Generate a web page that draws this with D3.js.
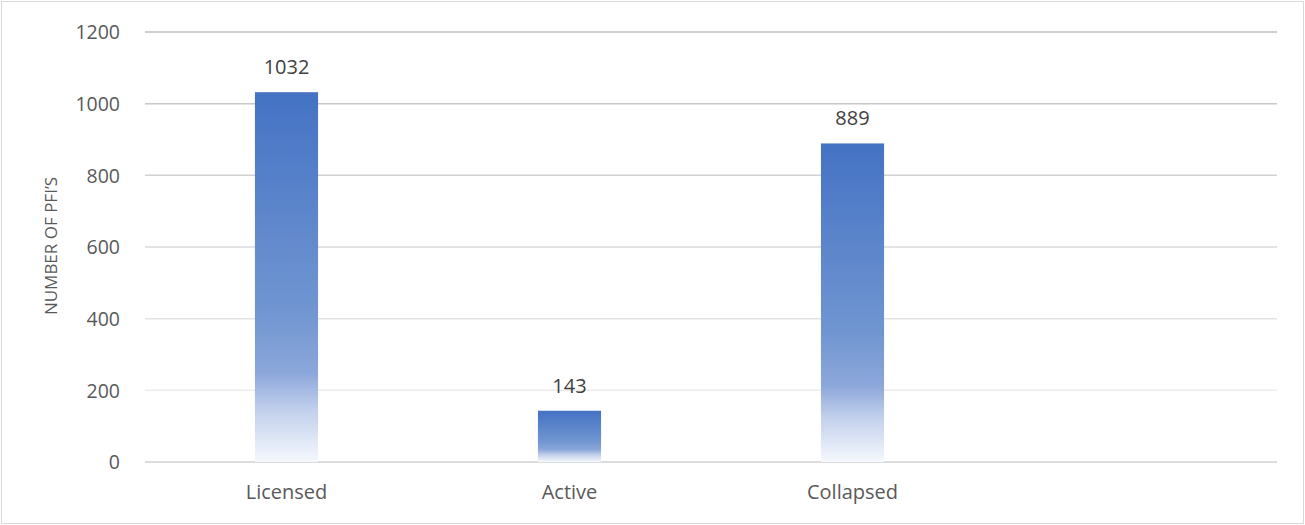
<!DOCTYPE html>
<html>
<head>
<meta charset="utf-8">
<script src="https://cdn.jsdelivr.net/npm/d3@7"></script>
<style>
  body { margin: 0; background: #fff; }
  svg text { font-family: "Open Sans", "Noto Sans", sans-serif; }
</style>
</head>
<body>
<div id="chart"></div>
<script>
// chart data
var categories = ["Licensed", "Active", "Collapsed", ""];
var values = [1032, 143, 889, null];
var yTicks = [0, 200, 400, 600, 800, 1000, 1200];

// dimensions
var W = 1305, H = 525;
var margin = {top: 32, right: 28, bottom: 63, left: 145},
    width = W - margin.left - margin.right,
    height = H - margin.top - margin.bottom;

var svg = d3.select("#chart").append("svg")
    .attr("width", W)
    .attr("height", H);

// outer border
svg.append("rect")
    .attr("x", 1.5).attr("y", 1.5)
    .attr("width", W - 3).attr("height", H - 3)
    .attr("fill", "#fff")
    .attr("stroke", "#d9d9d9");

// bar gradient
var defs = svg.append("defs");
var grad = defs.append("linearGradient")
    .attr("id", "barGrad")
    .attr("x1", 0).attr("y1", 0).attr("x2", 0).attr("y2", 1);
[[0, "#4472c4"], [0.6, "#7196d1"], [0.76, "#8ca7da"], [0.86, "#c2d0ec"], [1, "#f5f8fd"]]
  .forEach(function(s) {
    grad.append("stop").attr("offset", s[0]).attr("stop-color", s[1]);
  });

var g = svg.append("g")
    .attr("transform", "translate(" + margin.left + "," + margin.top + ")");

var x = d3.scaleBand()
    .domain(categories)
    .range([0, width])
    .paddingInner(0.777)
    .paddingOuter(0.3885);

var y = d3.scaleLinear()
    .domain([0, 1200])
    .range([height, 0]);

// gridlines get lighter toward the bottom, like the original
var gridColor = d3.scaleLinear().domain([200, 1200]).range(["#ececec", "#bfbfbf"]);

g.selectAll(".grid")
    .data(yTicks)
    .enter().append("line")
    .attr("class", "grid")
    .attr("x1", 0).attr("x2", width)
    .attr("y1", function(d) { return y(d); })
    .attr("y2", function(d) { return y(d); })
    .attr("stroke", function(d) { return d === 0 ? "#d0d0d0" : gridColor(d); })
    .attr("stroke-width", 1.5);

// y axis labels
var yAxis = g.append("g")
    .call(d3.axisLeft(y).tickValues(yTicks).tickFormat(d3.format("d")).tickSize(0).tickPadding(25));
yAxis.attr("font-family", null).attr("font-size", null);
yAxis.select(".domain").remove();
yAxis.selectAll("text")
    .attr("font-size", "19.5px")
    .attr("dy", "0.35em")
    .attr("fill", "#595959");

// x axis labels
var xAxis = g.append("g")
    .attr("transform", "translate(0," + height + ")")
    .call(d3.axisBottom(x).tickSize(0).tickPadding(23));
xAxis.attr("font-family", null).attr("font-size", null);
xAxis.select(".domain").remove();
xAxis.selectAll("text")
    .attr("font-size", "20px")
    .attr("fill", "#595959");

// bars
var barData = categories.map(function(c, i) { return {cat: c, val: values[i]}; })
    .filter(function(d) { return d.val != null; });

g.selectAll(".bar")
    .data(barData)
    .enter().append("rect")
    .attr("class", "bar")
    .attr("x", function(d) { return x(d.cat); })
    .attr("width", x.bandwidth())
    .attr("y", function(d) { return y(d.val); })
    .attr("height", function(d) { return height - y(d.val); })
    .attr("fill", "url(#barGrad)");

// value labels
g.selectAll(".val")
    .data(barData)
    .enter().append("text")
    .attr("class", "val")
    .attr("x", function(d) { return x(d.cat) + x.bandwidth() / 2; })
    .attr("y", function(d) { return y(d.val) - 18; })
    .attr("text-anchor", "middle")
    .attr("font-size", "20px")
    .attr("fill", "#404040")
    .text(function(d) { return d.val; });

// y axis title
svg.append("text")
    .attr("transform", "translate(57," + (margin.top + 214) + ") rotate(-90)")
    .attr("text-anchor", "middle")
    .attr("font-size", "17px")
    .attr("fill", "#595959")
    .text("NUMBER OF PFI’S");
</script>
</body>
</html>
